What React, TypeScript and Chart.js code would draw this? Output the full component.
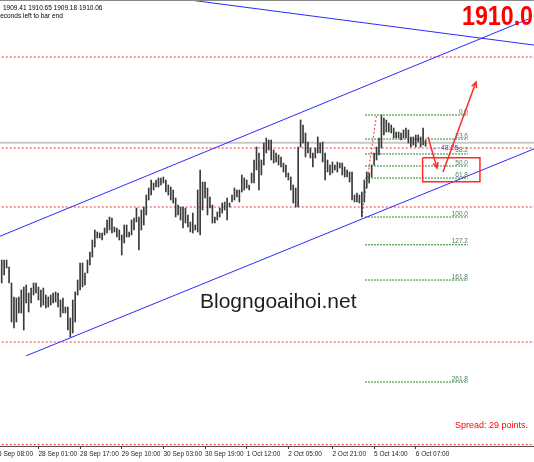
import React, { useEffect, useRef } from "react";
import { Chart, registerables } from "chart.js";

Chart.register(...registerables);

// ---------------- data (XAUUSD H1) ----------------
const barHigh = [
  1880.75, 1880.75, 1880.75, 1879.0, 1875.0, 1871.5, 1871.25, 1871.5, 1873.25, 1874.0,
  1874.5, 1872.5, 1873.75, 1875.0, 1875.0, 1874.0, 1873.25, 1873.75, 1872.0, 1871.5,
  1872.0, 1872.5, 1872.75, 1872.5, 1870.75, 1871.25, 1869.0, 1869.0, 1866.25, 1870.75,
  1872.75, 1875.75, 1880.0, 1880.0, 1877.5, 1880.75, 1882.75, 1885.75, 1888.25, 1887.75,
  1887.5, 1887.5, 1888.75, 1890.75, 1891.5, 1891.25, 1889.0, 1888.75, 1888.25, 1887.0,
  1889.5, 1889.5, 1887.75, 1890.75, 1891.25, 1893.75, 1891.5, 1893.25, 1894.0, 1897.0,
  1898.75, 1900.75, 1900.0, 1900.75, 1901.25, 1901.25, 1901.5, 1900.75, 1899.5, 1899.0,
  1898.25, 1896.25, 1894.5, 1894.0, 1894.0, 1893.75, 1892.0, 1890.25, 1892.5, 1889.5,
  1898.25, 1903.25, 1900.25, 1900.25, 1898.75, 1896.5, 1894.5, 1891.5, 1892.75, 1893.75,
  1895.0, 1895.25, 1896.25, 1895.0, 1897.0, 1898.75, 1898.25, 1898.25, 1902.0, 1901.25,
  1900.75, 1899.5, 1902.5, 1905.75, 1909.0, 1907.5, 1905.75, 1910.0, 1911.25, 1910.75,
  1910.75, 1908.25, 1907.5, 1907.0, 1906.5, 1905.0, 1904.5, 1902.5, 1901.5, 1899.5,
  1898.75, 1909.0, 1915.75, 1914.5, 1912.5, 1910.25, 1908.75, 1907.5, 1908.75, 1911.5,
  1910.0, 1910.25, 1907.5, 1905.75, 1904.5, 1905.25, 1904.5, 1905.25, 1905.0, 1905.0,
  1904.0, 1903.25, 1902.75, 1902.75, 1897.0, 1897.5, 1897.0, 1897.75, 1900.75, 1902.75,
  1902.5, 1904.5, 1907.5, 1909.0, 1911.25, 1917.0, 1916.25, 1915.75, 1915.0, 1914.5,
  1913.75, 1912.75, 1912.75, 1912.5, 1913.25, 1913.75, 1913.25, 1911.5, 1911.5, 1912.0,
  1912.0, 1911.5, 1913.75, 1910.65,
];
const barLow = [
  1875.0, 1877.0, 1878.75, 1875.0, 1865.25, 1863.75, 1865.25, 1867.5, 1867.5, 1863.25,
  1870.0, 1867.75, 1870.0, 1872.0, 1872.5, 1870.75, 1869.0, 1869.5, 1868.75, 1869.0,
  1869.5, 1870.0, 1870.25, 1869.0, 1866.5, 1867.5, 1867.5, 1863.25, 1861.5, 1862.5,
  1865.25, 1872.0, 1873.25, 1874.0, 1874.5, 1877.5, 1879.5, 1881.5, 1884.0, 1886.25,
  1886.25, 1885.75, 1887.0, 1887.5, 1888.25, 1887.5, 1887.75, 1886.5, 1885.75, 1882.0,
  1885.0, 1886.5, 1886.5, 1887.0, 1888.25, 1890.25, 1883.25, 1888.25, 1889.5, 1892.0,
  1895.75, 1897.0, 1898.25, 1899.0, 1899.0, 1899.5, 1900.0, 1897.75, 1897.0, 1895.75,
  1895.0, 1891.5, 1892.0, 1890.75, 1888.75, 1890.0, 1889.0, 1887.75, 1887.5, 1888.25,
  1887.75, 1887.0, 1893.25, 1896.25, 1892.0, 1893.75, 1890.0, 1890.0, 1890.75, 1891.5,
  1892.5, 1893.25, 1890.75, 1894.0, 1895.25, 1895.75, 1896.5, 1895.25, 1897.75, 1898.25,
  1898.75, 1898.25, 1900.0, 1900.0, 1903.25, 1898.25, 1902.0, 1904.5, 1907.5, 1908.25,
  1905.75, 1905.0, 1905.25, 1904.5, 1904.0, 1902.75, 1901.5, 1900.75, 1898.25, 1895.0,
  1894.0, 1894.0, 1909.0, 1910.0, 1906.5, 1907.5, 1906.25, 1904.0, 1906.25, 1907.5,
  1907.5, 1905.25, 1900.75, 1902.75, 1902.0, 1902.5, 1903.25, 1902.75, 1903.75, 1902.0,
  1901.5, 1901.5, 1900.25, 1895.75, 1895.25, 1895.25, 1895.0, 1891.5, 1895.25, 1898.75,
  1900.0, 1901.5, 1904.5, 1905.75, 1907.0, 1908.75, 1912.0, 1912.75, 1912.75, 1912.5,
  1911.25, 1911.25, 1911.25, 1910.75, 1911.25, 1911.25, 1910.0, 1909.0, 1909.5, 1909.0,
  1910.25, 1909.0, 1909.5, 1909.18,
];

// time axis (bar index of each label)
const tickIndex = [-3, 15, 32, 49, 66, 83, 100, 117, 135, 152, 169];
const tickLabels = [
  "25 Sep 08:00", "28 Sep 01:00", "28 Sep 17:00", "29 Sep 10:00", "30 Sep 03:00",
  "30 Sep 19:00", "1 Oct 12:00", "2 Oct 05:00", "2 Oct 21:00", "5 Oct 14:00", "6 Oct 07:00",
];

// last bar OHLC and bid
const lastOpen = 1909.41;
const lastHigh = 1910.65;
const lastLow = 1909.18;
const lastClose = 1910.06;

// horizontal support / resistance levels (red dotted)
const srLevels = [1931.5, 1908.75, 1894.0, 1860.25, 1834.6];

// trend lines [bar index, price]
const upperChannel = [{ x: -13, y: 1883.6 }, { x: 215, y: 1941.0 }];
const lowerChannel = [{ x: 10, y: 1856.8 }, { x: 232, y: 1912.2 }];
const topLine = [{ x: 60, y: 1947.1 }, { x: 232, y: 1933.3 }];

// Fibonacci retracement
const fibHigh = 1917.0;
const fibLow = 1891.5;
const fibRatios = [0, 23.6, 38.2, 50, 61.8, 100, 127.2, 161.8, 261.8];
const fibFrom = 148.3;
const fibTo = 190.3;
const fibDiagonal = [{ x: 147, y: 1891.5 }, { x: 153, y: 1917.0 }];

// drawn arrows and target box
const arrowDown = [{ x: 174.0, y: 1911.5 }, { x: 177.7, y: 1903.75 }];
const arrowUp = [{ x: 180.1, y: 1902.75 }, { x: 193.6, y: 1925.25 }];
const targetBox = { x0: 171.8, x1: 195.2, top: 1906.3, bottom: 1900.3 };
const countdownAnchor = { x: 175.6, y: 1908.2 };
const countdownText = "\u2190 48:25";
const spreadText = "Spread: 29 points.";
const watermark = "Blogngoaihoi.net";
const timerText = "seconds left to bar end";

// ---------------- layout ----------------
const SHIFT = 30; // the reference is a crop: canvas starts 30px left of the window
const W = 600;
const H = 462;
const X_MIN = -12.94;
const X_MAX = 231.96;
const Y_MIN = 1834.25;
const Y_MAX = 1945.75;
const FONT = '"Liberation Sans", Arial, sans-serif';
const RED_DOT = "rgba(255,0,0,0.8)";
const FIB_GREEN = "#2f8a2f";
const FIB_TEXT = "#4d7d5d";
const ARROW_RED = "#ff2a2a";
const BLUE = "#2a2aff";

const fibPrice = (r: number) => fibHigh - (r / 100) * (fibHigh - fibLow);

const overlay = {
  id: "overlay",
  afterDatasetsDraw(chart: any) {
    const { ctx } = chart;
    const xs = chart.scales.x;
    const ys = chart.scales.y;
    const px = (v: number) => xs.getPixelForValue(v);
    const py = (v: number) => ys.getPixelForValue(v);
    ctx.save();

    // arrow heads
    ctx.strokeStyle = ARROW_RED;
    ctx.lineWidth = 1.5;
    for (const a of [arrowDown, arrowUp]) {
      const x1 = px(a[0].x), y1 = py(a[0].y), x2 = px(a[1].x), y2 = py(a[1].y);
      const ang = Math.atan2(y2 - y1, x2 - x1);
      ctx.beginPath();
      ctx.moveTo(x2 - 6 * Math.cos(ang - 0.45), y2 - 6 * Math.sin(ang - 0.45));
      ctx.lineTo(x2, y2);
      ctx.lineTo(x2 - 6 * Math.cos(ang + 0.45), y2 - 6 * Math.sin(ang + 0.45));
      ctx.stroke();
    }

    // fib labels
    ctx.font = `6.5px ${FONT}`;
    ctx.fillStyle = FIB_TEXT;
    ctx.textAlign = "right";
    ctx.textBaseline = "alphabetic";
    fibRatios.forEach((r) => ctx.fillText(r.toFixed(1), px(fibTo), py(fibPrice(r)) - 1.5));

    // countdown
    ctx.textAlign = "left";
    ctx.font = `7px ${FONT}`;
    ctx.fillStyle = "#4646e0";
    ctx.fillText(countdownText, px(countdownAnchor.x), py(countdownAnchor.y));

    // top-left info
    ctx.fillStyle = "#000";
    ctx.font = `6.5px ${FONT}`;
    ctx.fillText(
      [lastOpen, lastHigh, lastLow, lastClose].map((v) => v.toFixed(2)).join(" "),
      SHIFT + 3, 9.5);
    ctx.fillText(timerText, SHIFT - 3, 18);

    // watermark
    ctx.font = `21px ${FONT}`;
    ctx.fillStyle = "#1e1e1e";
    ctx.fillText(watermark, SHIFT + 200, 308);

    // spread
    ctx.font = `9px ${FONT}`;
    ctx.fillStyle = "#ff0000";
    ctx.fillText(spreadText, SHIFT + 455, 427.5);

    // big bid
    ctx.save();
    ctx.font = `bold 27px ${FONT}`;
    ctx.fillStyle = "#ff0000";
    ctx.translate(SHIFT + 462, 25);
    ctx.scale(0.86, 1);
    ctx.fillText(lastClose.toFixed(2), 0, 0);
    ctx.restore();

    // top frame line
    ctx.strokeStyle = "#8a8a8a";
    ctx.lineWidth = 1;
    ctx.beginPath();
    ctx.moveTo(0, 0.5);
    ctx.lineTo(W, 0.5);
    ctx.stroke();

    ctx.restore();
  },
};

export default function App() {
  const ref = useRef<HTMLCanvasElement>(null);

  useEffect(() => {
    document.body.style.margin = "0";
    document.body.style.overflow = "hidden";
    if (!ref.current) return;

    const line = (data: any[], color: string, width: number, dash: number[], order: number) => ({
      type: "line" as const,
      data,
      borderColor: color,
      borderWidth: width,
      borderDash: dash,
      pointRadius: 0,
      fill: false,
      tension: 0,
      order,
    });

    const datasets: any[] = [];
    // bars (high-low range)
    datasets.push({
      type: "bar",
      data: barHigh.map((h, i) => ({ x: i, y: [barLow[i], h] })),
      backgroundColor: "#3a3a3a",
      borderWidth: 0,
      barThickness: 1,
      order: 2,
    });
    // bid line
    datasets.push(line([{ x: X_MIN - 5, y: lastClose }, { x: X_MAX + 5, y: lastClose }], "#c8c8c8", 2, [], 6));
    // horizontal levels
    srLevels.forEach((p) =>
      datasets.push(line([{ x: X_MIN - 5, y: p }, { x: X_MAX + 5, y: p }], RED_DOT, 1, [2, 2], 5)));
    // fib levels
    fibRatios.forEach((r) =>
      datasets.push(line([{ x: fibFrom, y: fibPrice(r) }, { x: fibTo, y: fibPrice(r) }], FIB_GREEN, 1, [2, 1], 4)));
    datasets.push(line(fibDiagonal, RED_DOT, 1, [2, 2], 3));
    // channel & trend lines
    datasets.push(line(upperChannel, BLUE, 1, [], 1));
    datasets.push(line(lowerChannel, BLUE, 1, [], 1));
    datasets.push(line(topLine, BLUE, 1, [], 1));
    // arrows and target box
    datasets.push(line(arrowDown, ARROW_RED, 1.5, [], 0));
    datasets.push(line(arrowUp, ARROW_RED, 1.5, [], 0));
    datasets.push(line([
      { x: targetBox.x0, y: targetBox.top },
      { x: targetBox.x1, y: targetBox.top },
      { x: targetBox.x1, y: targetBox.bottom },
      { x: targetBox.x0, y: targetBox.bottom },
      { x: targetBox.x0, y: targetBox.top },
    ], ARROW_RED, 1.5, [], 0));

    const chart = new Chart(ref.current, {
      type: "bar",
      data: { datasets },
      options: {
        responsive: false,
        devicePixelRatio: 1,
        animation: false,
        events: [],
        layout: { padding: 0 },
        plugins: { legend: { display: false }, tooltip: { enabled: false } },
        scales: {
          x: {
            type: "linear",
            min: X_MIN,
            max: X_MAX,
            offset: false,
            afterBuildTicks: (scale: any) => {
              scale.ticks = tickIndex.map((v) => ({ value: v }));
            },
            afterFit: (scale: any) => {
              scale.height = 16;
            },
            ticks: {
              autoSkip: false,
              maxRotation: 0,
              minRotation: 0,
              align: "start",
              padding: 1,
              color: "#222",
              font: { family: FONT, size: 6.5 },
              callback: (v: any) => {
                const k = tickIndex.indexOf(Number(v));
                return k >= 0 ? tickLabels[k] : "";
              },
            },
            grid: {
              display: true,
              drawOnChartArea: false,
              drawTicks: true,
              tickLength: 3,
              color: "#333",
              offset: false,
            },
            border: { display: true, color: "#555", width: 1 },
          },
          y: { display: false, min: Y_MIN, max: Y_MAX },
        },
      } as any,
      plugins: [overlay],
    });
    return () => chart.destroy();
  }, []);

  return (
    <div style={{ position: "fixed", left: -SHIFT, top: 0, width: W, height: H, background: "#fff" }}>
      <canvas ref={ref} width={W} height={H} style={{ display: "block" }} />
    </div>
  );
}
